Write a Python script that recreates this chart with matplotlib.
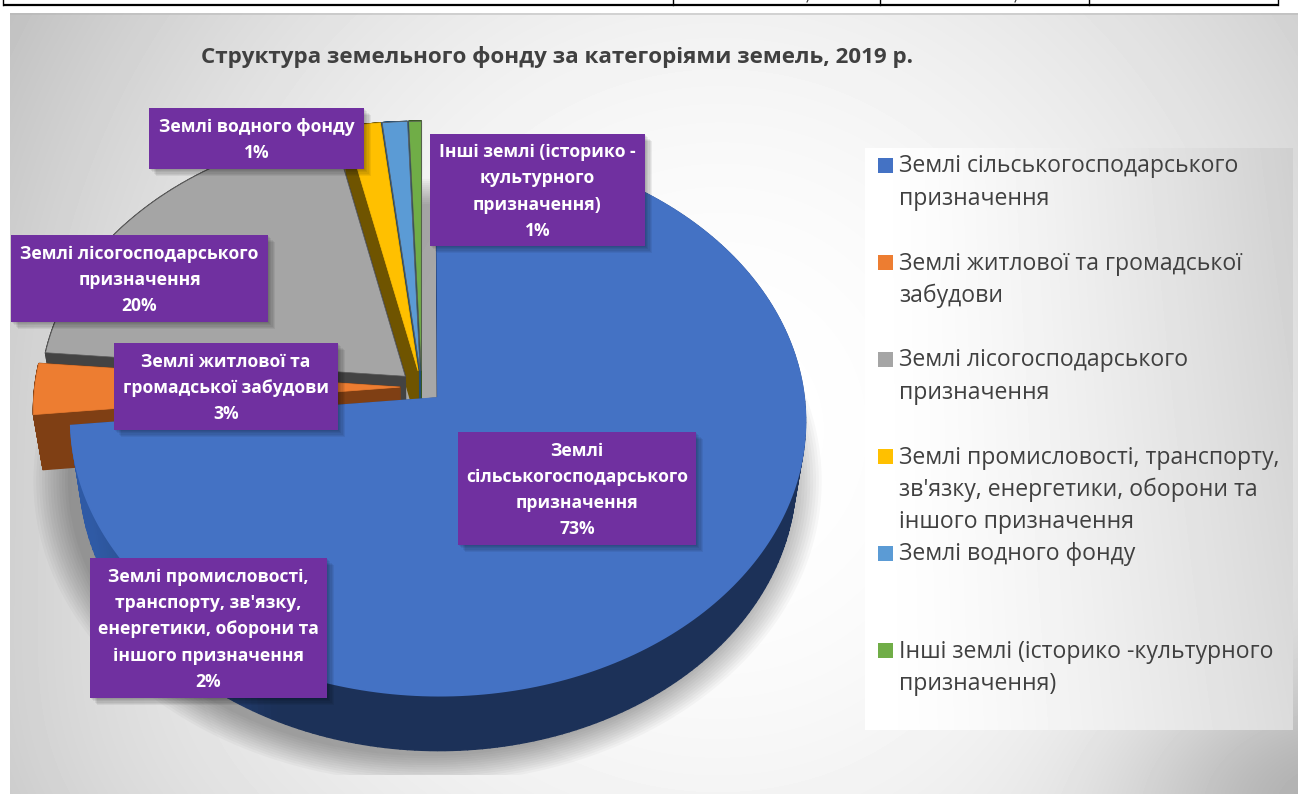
import numpy as np
import matplotlib
matplotlib.use("Agg")
import matplotlib.pyplot as plt
from matplotlib.patches import Polygon, Rectangle

plt.rcParams['font.family'] = ['Open Sans', 'DejaVu Sans']

# ---------- data ----------
title = "Структура земельного фонду за категоріями земель, 2019 р."
values = [73.4, 3.0, 20.1, 1.7, 1.2, 0.6]
top_colors = ['#4472c4', '#ed7d31', '#a5a5a5', '#ffc000', '#5b9bd5', '#70ad47']
wall_colors = ['#1c3158', '#7f3f14', '#434343', '#6f5400', '#1f4e79', '#385723']
legend_lines = [
    ["Землі сільськогосподарського", "призначення"],
    ["Землі житлової та громадської", "забудови"],
    ["Землі лісогосподарського", "призначення"],
    ["Землі промисловості, транспорту,", "зв'язку, енергетики, оборони та", "іншого призначення"],
    ["Землі водного фонду"],
    ["Інші землі (історико -культурного", "призначення)"],
]
label_lines = [
    ["Землі", "сільськогосподарського", "призначення"],
    ["Землі житлової та", "громадської забудови"],
    ["Землі лісогосподарського", "призначення"],
    ["Землі промисловості,", "транспорту, зв'язку,", "енергетики, оборони та", "іншого призначення"],
    ["Землі водного фонду"],
    ["Інші землі (історико -", "культурного", "призначення)"],
]
# label boxes (x0, y0, x1, y1) in pixels
label_boxes = [(458, 432, 696, 545), (114, 343, 338, 430), (11, 235, 268, 322),
               (90, 558, 327, 698), (149, 108, 364, 169), (430, 134, 645, 246)]
legend_y = [165, 262, 359, 456, 553, 650]

W, H = 1298, 794
fig = plt.figure(figsize=(W / 100, H / 100), dpi=100, facecolor='white')
ax = fig.add_axes([0, 0, 1, 1])
ax.set_xlim(0, W)
ax.set_ylim(H, 0)
ax.axis('off')

# ---------- background ----------
yy, xx = np.mgrid[13:H, 10:W]
v = 255 - 70 * (((xx - 720) / 866.0) ** 2 + ((yy - 430) / 913.0) ** 2)
v -= 35 * np.exp(-(((xx - 1298) / 170.0) ** 2 + ((yy - 794) / 110.0) ** 2))
v += 8 * np.exp(-(((xx - 10) / 300.0) ** 2 + ((yy - 794) / 200.0) ** 2))
ax.imshow(np.clip(v, 0, 255), cmap='gray', vmin=0, vmax=255,
          extent=(10, W, H, 13), aspect='auto', zorder=0, interpolation='bilinear')
ax.set_xlim(0, W)
ax.set_ylim(H, 0)
ax.add_patch(Rectangle((10, 13), W - 10, 2, fc='#b5b5b5', alpha=.5, lw=0, zorder=0.5))

# table remnant at the top
ax.plot([3, 1278], [4.5, 4.5], color='black', lw=1.6, zorder=1, solid_capstyle='butt')
for vx in (3, 673, 880, 1089, 1278):
    ax.plot([vx, vx], [0, 5], color='black', lw=1, zorder=1)
for vx in (808, 1016):
    ax.plot([vx, vx - 1], [0, 2], color='#333333', lw=.8, zorder=1)

# legend panel
lyy, lxx = np.mgrid[148:730, 865:1293]
lv = 255 - 48 * ((lxx - 865) / 428.0) ** 1.4 * (1 - 0.25 * (lyy - 148) / 582.0)
ax.imshow(lv, cmap='gray', vmin=0, vmax=255, extent=(865, 1293, 730, 148),
          aspect='auto', zorder=1, interpolation='bilinear')
ax.set_xlim(0, W)
ax.set_ylim(H, 0)

# ---------- pie geometry comes from matplotlib's pie ----------
tmp = fig.add_axes([0, 0, .1, .1])
wedges, _ = tmp.pie(values, explode=[.06] * len(values), startangle=90, counterclock=False, radius=1)
tmp.set_visible(False)

CX, CY, RX, A, K = 421.7, 387.0, 365.0, 272.0, 0.08
DEPTH = 55


def project(X, Y):
    w = 1 + K * Y
    return CX + RX * X / w, CY - A * Y / w


def lower(px, py):
    return CX + (px - CX) * 0.975, py + DEPTH


def outline(wd, n=240):
    t = np.radians(np.linspace(wd.theta1, wd.theta2, n))
    X = np.r_[wd.center[0], wd.center[0] + wd.r * np.cos(t)]
    Y = np.r_[wd.center[1], wd.center[1] + wd.r * np.sin(t)]
    return X, Y


# soft shadow under the pie
t = np.linspace(0, 2 * np.pi, 300)
sx, sy = project(np.cos(t), np.sin(t))
sx, sy = lower(sx, sy)
scx, scy = sx.mean(), sy.mean()
clip = Rectangle((0, 0), W, 775, transform=ax.transData)
for i in range(13):
    g = 1 + 0.008 * (13 - i)
    p = Polygon(np.c_[scx + 6 + (sx - scx) * g, scy + 16 + (sy - scy) * g],
                fc='black', alpha=.026, lw=0, zorder=2)
    ax.add_patch(p)
    p.set_clip_path(clip)

z = 3.0
c_dark = np.array(matplotlib.colors.to_rgb(wall_colors[0]))
c_light = np.array(matplotlib.colors.to_rgb('#2f5aa5'))
# paint back slices first, blue last
for idx in [5, 4, 3, 2, 1, 0]:
    wd = wedges[idx]
    X, Y = outline(wd)
    px, py = project(X, Y)
    bx, by = lower(px, py)
    n = len(px)
    for j in range(n):
        k = (j + 1) % n
        col = wall_colors[idx]
        if idx == 0 and j > 0:
            # the blue rim is lighter towards the left end
            f = np.clip((270 - px[j]) / 180.0, 0, 1)
            col = tuple(c_dark + (c_light - c_dark) * f)
        ax.add_patch(Polygon([(px[j], py[j]), (px[k], py[k]), (bx[k], by[k]), (bx[j], by[j])],
                             fc=col, ec=col, lw=1.0, zorder=z))
    z += 0.01
    if idx == 0:
        # pale inner wall of the blue slice
        ax.add_patch(Polygon([(px[0], py[0]), (px[0], py[1]), (px[0] - 15, py[1] + 20),
                              (px[0] - 15, py[0] + 1)], fc='#d6d6d6', ec='#bdbdbd', lw=.5, zorder=z))
        z += 0.01
    edge = '#5a5a5a' if idx in (2, 4, 5) else top_colors[idx]
    ax.add_patch(Polygon(np.c_[px, py], fc=top_colors[idx], ec=edge,
                         lw=1.3 if idx == 0 else .5, zorder=z))
    z += 0.01

# ---------- data labels ----------
for (x0, y0, x1, y1), lines, val in zip(label_boxes, label_lines, values):
    for i in range(6):
        off = 1 + i * 1.2
        ax.add_patch(Rectangle((x0 + off, y0 + off), x1 - x0, y1 - y0, fc='black', alpha=.06, lw=0, zorder=10))
    ax.add_patch(Rectangle((x0, y0), x1 - x0, y1 - y0, fc='#7030a0', lw=0, zorder=11))
    rows = lines + [f"{round(val)}%"]
    pitch = 26.3
    yc = (y0 + y1) / 2 + 1.5
    for i, row in enumerate(rows):
        ax.text((x0 + x1) / 2, yc + (i - (len(rows) - 1) / 2) * pitch, row, color='white',
                fontsize=12.65, fontweight='bold', ha='center', va='center', zorder=12)

# ---------- title and legend ----------
ax.text(557, 57, title, fontsize=16.1, fontweight='bold', color='#404040', ha='center', va='center', zorder=12)

for color, lines, y in zip(top_colors, legend_lines, legend_y):
    ax.add_patch(Rectangle((878, y - 7.5), 15, 15, fc=color, lw=0, zorder=12))
    for i, row in enumerate(lines):
        ax.text(899, y + 1.5 + i * 32.5, row, fontsize=16.6, color='#404040', ha='left', va='center', zorder=12)

fig.savefig('out.png', dpi=100)
